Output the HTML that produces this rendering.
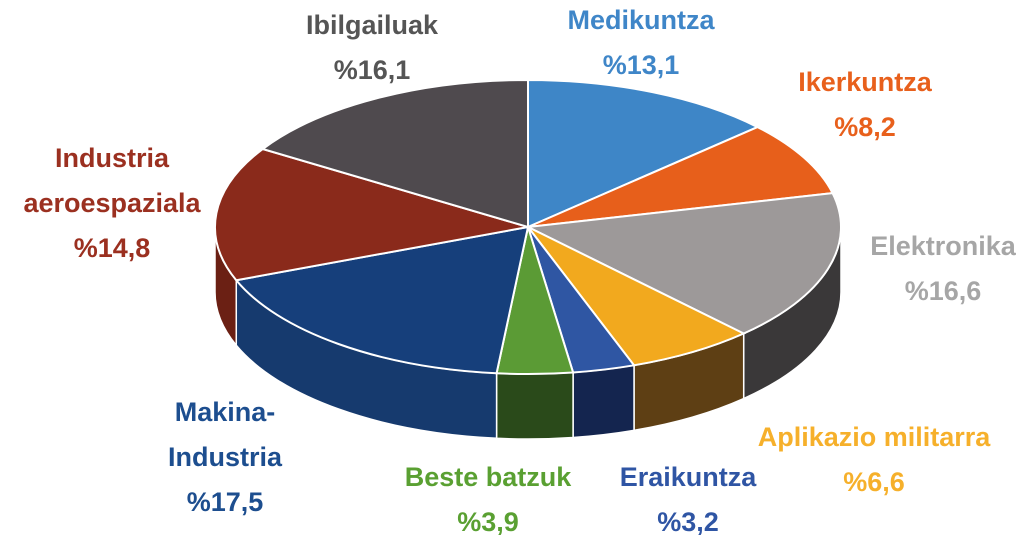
<!DOCTYPE html>
<html><head><meta charset="utf-8">
<style>
html,body{margin:0;padding:0;background:#fff;}
svg{display:block;}
text{font-family:"Liberation Sans",sans-serif;font-weight:bold;font-size:27px;text-anchor:middle;}
</style></head>
<body>
<svg id="chart" width="1024" height="535" viewBox="0 0 1024 535" xmlns="http://www.w3.org/2000/svg">
<g id="walls"></g>
<g id="tops"></g>
<g id="labels"></g>
</svg>
<script>
const categories = ["Medikuntza","Ikerkuntza","Elektronika","Aplikazio militarra","Eraikuntza","Beste batzuk","Makina-Industria","Industria aeroespaziala","Ibilgailuak"];
const values = [13.1, 8.2, 16.6, 6.6, 3.2, 3.9, 17.5, 14.8, 16.1];
const valueLabels = ["%13,1","%8,2","%16,6","%6,6","%3,2","%3,9","%17,5","%14,8","%16,1"];
const nameLines = [["Medikuntza"],["Ikerkuntza"],["Elektronika"],["Aplikazio militarra"],["Eraikuntza"],["Beste batzuk"],["Makina-","Industria"],["Industria","aeroespaziala"],["Ibilgailuak"]];
const topColors = ["#3e86c7","#e75f1b","#9d9999","#f2a91e","#2f56a3","#5b9b35","#163f7b","#8a2a1b","#4f4a4e"];
const sideColors = ["#2b5f8f","#a94513","#3a3839","#5e3f14","#14254f","#2a4a1a","#163a6e","#6b2014","#2f2b2e"];
const labelColors = ["#3f86c8","#e8601c","#a6a6a6","#f6b02b","#2f55a4","#5aa032","#1d4e8f","#9b3020","#555555"];
const labelPos = [[641,20],[865,82],[943,246],[874,437],[688,477],[488,477],[225,412],[112,158],[372,25]];

const cx=528, cy=227, rx=313, ry=147, depth=65, lineH=45;
const NS="http://www.w3.org/2000/svg";
const pt=(a,dy=0)=>[cx+rx*Math.cos(a), cy+ry*Math.sin(a)+dy];
const total=values.reduce((s,v)=>s+v,0);
const walls=document.getElementById('walls'), tops=document.getElementById('tops'), labels=document.getElementById('labels');
let a=-Math.PI/2;
values.forEach((v,i)=>{
  const b=a+v/total*2*Math.PI;
  // wall (front half: angle 0..PI)
  const a0=Math.max(a,0), b0=Math.min(b,Math.PI);
  if(b0>a0){
    const p1=pt(a0),p2=pt(b0),p3=pt(b0,depth),p4=pt(a0,depth);
    const w=document.createElementNS(NS,'path');
    w.setAttribute('d',`M${p1} A${rx},${ry} 0 0 1 ${p2} L${p3} A${rx},${ry} 0 0 0 ${p4} Z`);
    w.setAttribute('fill',sideColors[i]);
    w.setAttribute('stroke','#fff');w.setAttribute('stroke-width','1.5');
    
    
    walls.appendChild(w);
  }
  const s=pt(a), e=pt(b), large=(b-a)>Math.PI?1:0;
  const p=document.createElementNS(NS,'path');
  p.setAttribute('d',`M${cx},${cy} L${s} A${rx},${ry} 0 ${large} 1 ${e} Z`);
  p.setAttribute('fill',topColors[i]);
  p.setAttribute('stroke','#fff');p.setAttribute('stroke-width','2');
  
  
  tops.appendChild(p);
  // labels
  const lines=nameLines[i].concat([valueLabels[i]]);
  lines.forEach((t,j)=>{
    const tx=document.createElementNS(NS,'text');
    tx.setAttribute('x',labelPos[i][0]);
    tx.setAttribute('y',labelPos[i][1]+9+j*lineH);
    tx.setAttribute('fill',labelColors[i]);
    tx.textContent=t;
    
    
    labels.appendChild(tx);
  });
  a=b;
});
</script>
</body></html>
